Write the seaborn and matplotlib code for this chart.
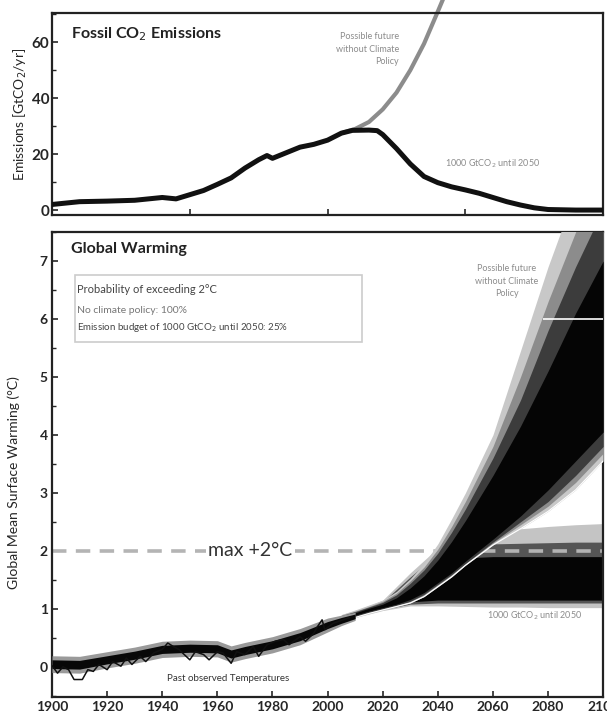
import numpy as np
import pandas as pd
import seaborn as sns
import matplotlib.pyplot as plt
from matplotlib.ticker import MultipleLocator

# === data ===
# fossil CO2 emissions [GtCO2/yr]
EMIS_YEARS = [1900, 1910, 1920, 1930, 1940, 1945, 1950, 1955, 1960, 1965, 1970,
              1975, 1978, 1980, 1985, 1990, 1995, 2000, 2005, 2009, 2015, 2018,
              2020, 2025, 2030, 2035, 2040, 2045, 2050, 2055, 2060, 2065, 2070,
              2075, 2080, 2090, 2100]
EMIS_BUDGET = [2.0, 3.0, 3.2, 3.5, 4.5, 4.0, 5.5, 7.0, 9.2, 11.5, 15.0,
               18.0, 19.5, 18.5, 20.5, 22.5, 23.5, 25.0, 27.5, 28.5, 28.6, 28.4,
               27.0, 22.0, 16.5, 12.0, 9.8, 8.3, 7.2, 6.0, 4.5, 3.0, 1.8,
               0.8, 0.2, 0.0, 0.0]
NOPOL_YEARS = [2005, 2010, 2015, 2020, 2025, 2030, 2035, 2040, 2043]
NOPOL_EMIS = [27.5, 29.0, 31.5, 36.0, 42.0, 50.0, 59.5, 71.0, 78.0]

# observed temperature anomaly [degC]
OBS_YEARS = [1900, 1902, 1904, 1906, 1908, 1911, 1913, 1915, 1917, 1920, 1922,
             1925, 1927, 1929, 1932, 1934, 1937, 1940, 1942, 1944, 1946, 1948,
             1950, 1952, 1955, 1957, 1960, 1962, 1965, 1967, 1970, 1973, 1975,
             1978, 1981, 1984, 1986, 1990, 1992, 1995, 1996, 1998, 1999, 2002,
             2005, 2008]
OBS_TEMP = [0.02, -0.11, 0.0, -0.05, -0.22, -0.22, -0.05, -0.08, 0.04, -0.05, 0.09,
            0.01, 0.15, 0.04, 0.18, 0.09, 0.24, 0.30, 0.41, 0.35, 0.30, 0.21,
            0.12, 0.26, 0.21, 0.12, 0.26, 0.24, 0.06, 0.26, 0.21, 0.35, 0.18,
            0.38, 0.44, 0.47, 0.38, 0.52, 0.44, 0.58, 0.67, 0.81, 0.64, 0.75,
            0.80, 0.85]

# model hindcast band
HIND_YEARS = [1900, 1910, 1920, 1930, 1940, 1950, 1960, 1965, 1970, 1980, 1990, 2000, 2005, 2010]
HIND_LO = [-0.03, -0.04, 0.05, 0.13, 0.23, 0.25, 0.24, 0.15, 0.21, 0.31, 0.45, 0.66, 0.75, 0.83]
HIND_HI = [0.12, 0.11, 0.19, 0.27, 0.37, 0.39, 0.38, 0.29, 0.35, 0.45, 0.59, 0.78, 0.85, 0.91]
HIND_LO2 = [-0.10, -0.11, -0.02, 0.06, 0.16, 0.18, 0.17, 0.08, 0.14, 0.24, 0.38, 0.60, 0.71, 0.80]
HIND_HI2 = [0.19, 0.18, 0.26, 0.34, 0.44, 0.46, 0.45, 0.36, 0.42, 0.52, 0.66, 0.84, 0.89, 0.94]

# no climate policy projection, percentiles
NOPOL_T_YEARS = [2005, 2010, 2015, 2020, 2025, 2030, 2035, 2040, 2045, 2050,
                 2060, 2070, 2080, 2090, 2100]
NOPOL_P05 = [0.78, 0.85, 0.92, 0.98, 1.04, 1.10, 1.21, 1.38, 1.55, 1.75, 2.10, 2.38, 2.68, 3.05, 3.55]
NOPOL_P10 = [0.79, 0.86, 0.93, 0.99, 1.05, 1.12, 1.23, 1.40, 1.57, 1.77, 2.13, 2.45, 2.77, 3.18, 3.68]
NOPOL_P17 = [0.80, 0.87, 0.94, 1.00, 1.06, 1.13, 1.25, 1.42, 1.59, 1.78, 2.15, 2.50, 2.85, 3.30, 3.80]
NOPOL_P33 = [0.82, 0.89, 0.96, 1.02, 1.08, 1.16, 1.28, 1.45, 1.62, 1.82, 2.20, 2.60, 3.05, 3.55, 4.05]
NOPOL_P67 = [0.86, 0.93, 1.01, 1.08, 1.19, 1.36, 1.57, 1.84, 2.16, 2.52, 3.30, 4.15, 5.10, 6.10, 7.00]
NOPOL_P83 = [0.88, 0.95, 1.03, 1.11, 1.24, 1.44, 1.67, 1.96, 2.32, 2.72, 3.60, 4.60, 5.80, 6.90, 7.90]
NOPOL_P90 = [0.89, 0.96, 1.04, 1.13, 1.27, 1.48, 1.72, 2.03, 2.42, 2.85, 3.80, 5.00, 6.30, 7.50, 8.60]
NOPOL_P95 = [0.90, 0.97, 1.05, 1.15, 1.30, 1.52, 1.78, 2.12, 2.55, 3.00, 4.00, 5.45, 6.90, 8.20, 9.40]

# 1000 GtCO2 budget projection, percentiles
BUDG_YEARS = [2005, 2010, 2020, 2030, 2040, 2050, 2060, 2070, 2080, 2090, 2100]
BUDG_P05 = [0.78, 0.85, 0.97, 1.05, 1.05, 1.04, 1.03, 1.03, 1.02, 1.02, 1.02]
BUDG_P17 = [0.80, 0.87, 0.99, 1.08, 1.10, 1.10, 1.10, 1.10, 1.10, 1.10, 1.10]
BUDG_P33 = [0.82, 0.89, 1.00, 1.12, 1.15, 1.15, 1.15, 1.15, 1.15, 1.15, 1.15]
BUDG_P67 = [0.86, 0.93, 1.10, 1.45, 1.78, 1.88, 1.90, 1.90, 1.90, 1.90, 1.90]
BUDG_P83 = [0.88, 0.95, 1.12, 1.55, 1.95, 2.08, 2.12, 2.13, 2.14, 2.15, 2.15]
BUDG_P95 = [0.90, 0.98, 1.15, 1.62, 2.05, 2.22, 2.32, 2.38, 2.42, 2.45, 2.47]

LIMIT = 2.0

emis = pd.DataFrame({"year": EMIS_YEARS, "emis": EMIS_BUDGET})
nopol = pd.DataFrame({"year": NOPOL_YEARS, "emis": NOPOL_EMIS})
obs = pd.DataFrame({"year": OBS_YEARS, "temp": OBS_TEMP})

# === style ===
sns.set_theme(style="ticks")
plt.rcParams["font.family"] = ["Lato", "DejaVu Sans"]
plt.rcParams["axes.linewidth"] = 1.6
plt.rcParams["axes.edgecolor"] = "#222222"

fig = plt.figure(figsize=(6.07, 7.17), dpi=100)
ax1 = fig.add_axes([0.0857, 0.700, 0.908, 0.282])
ax2 = fig.add_axes([0.0857, 0.028, 0.908, 0.6485])

# === top panel: emissions ===
sns.lineplot(data=nopol, x="year", y="emis", ax=ax1, color="#8c8c8c", lw=3,
             clip_on=False, zorder=2)
sns.lineplot(data=emis, x="year", y="emis", ax=ax1, color="#111111", lw=3.6, zorder=3)
ax1.set_xlim(1900, 2100)
ax1.set_ylim(-1.8, 70.5)
ax1.set_xticks([1950, 2000, 2050])
ax1.set_xticklabels([])
ax1.set_yticks([0, 20, 40, 60])
ax1.yaxis.set_minor_locator(MultipleLocator(10))
ax1.tick_params(direction="in", length=4, width=1.2, labelsize=11, pad=2)
ax1.tick_params(which="minor", direction="in", length=3, width=1)
for lbl in ax1.get_yticklabels():
    lbl.set_fontweight("bold")
ax1.set_xlabel("")
ax1.set_ylabel("Emissions [GtCO$_2$/yr]", fontsize=10, labelpad=2)
ax1.text(1907, 63, "Fossil CO$_2$ Emissions", fontsize=11.5, fontweight="bold",
         color="#222222", va="center")
ax1.text(2026, 57.5, "Possible future\nwithout Climate\nPolicy", fontsize=6.5,
         color="#8c8c8c", ha="right", va="center", linespacing=1.5)
ax1.text(2060, 16.5, "1000 GtCO$_2$ until 2050", fontsize=6.5, color="#8c8c8c",
         ha="center", va="center")

# === bottom panel: warming ===
# 1000 GtCO2 budget pathway (drawn under the 2 degC line)
ax2.fill_between(BUDG_YEARS, BUDG_P05, BUDG_P95, color="#c4c4c4", lw=0, zorder=1)
ax2.fill_between(BUDG_YEARS, BUDG_P17, BUDG_P83, color="#555555", lw=0, zorder=1)
ax2.fill_between(BUDG_YEARS, BUDG_P33, BUDG_P67, color="#050505", lw=0, zorder=1)

ax2.axhline(LIMIT, color="#b4b4b4", lw=2.6, dashes=(4, 2.6), zorder=2)

# no climate policy fan
ax2.fill_between(NOPOL_T_YEARS, NOPOL_P05, NOPOL_P95, color="#c8c8c8", lw=0, zorder=3)
ax2.fill_between(NOPOL_T_YEARS, NOPOL_P10, NOPOL_P90, color="#8c8c8c", lw=0, zorder=3)
ax2.fill_between(NOPOL_T_YEARS, NOPOL_P17, NOPOL_P83, color="#3c3c3c", lw=0, zorder=3)
ax2.fill_between(NOPOL_T_YEARS, NOPOL_P33, NOPOL_P67, color="#050505", lw=0, zorder=3)
ax2.plot(NOPOL_T_YEARS, NOPOL_P05, color="white", lw=0.8, zorder=3)
ax2.hlines(6.0, 2078, 2100, color="white", lw=1.2, zorder=4)

# past
ax2.fill_between(HIND_YEARS, HIND_LO2, HIND_HI2, color="#9a9a9a", lw=0, zorder=3)
ax2.fill_between(HIND_YEARS, HIND_LO, HIND_HI, color="#080808", lw=0, zorder=3)
sns.lineplot(data=obs, x="year", y="temp", ax=ax2, color="#111111", lw=1.1, zorder=4)

ax2.set_xlim(1900, 2100)
ax2.set_ylim(-0.52, 7.5)
ax2.set_xticks(range(1900, 2101, 20))
ax2.set_yticks(range(0, 8))
ax2.yaxis.set_minor_locator(MultipleLocator(0.5))
ax2.tick_params(direction="in", length=4, width=1.2, labelsize=10, pad=3)
ax2.tick_params(which="minor", direction="in", length=3, width=1)
for lbl in ax2.get_yticklabels() + ax2.get_xticklabels():
    lbl.set_fontweight("bold")
ax2.set_xlabel("")
ax2.set_ylabel("Global Mean Surface Warming (°C)", fontsize=10)
ax2.yaxis.set_label_coords(-0.058, 0.46)

ax2.text(1907, 7.2, "Global Warming", fontsize=11.5, fontweight="bold",
         color="#222222", va="center")
ax2.text(1972, LIMIT, "max +2°C", fontsize=14, color="#333333", ha="center",
         va="center", zorder=5,
         bbox=dict(facecolor="white", edgecolor="none", pad=1.5))
ax2.text(2065, 6.65, "Possible future\nwithout Climate\nPolicy", fontsize=6.5,
         color="#8c8c8c", ha="center", va="center", linespacing=1.5, zorder=5)
ax2.text(2075, 0.88, "1000 GtCO$_2$ until 2050", fontsize=6.5, color="#8c8c8c",
         ha="center", va="center", zorder=5)
ax2.text(1964, -0.2, "Past observed Temperatures", fontsize=7, color="#333333",
         ha="center", va="center", zorder=5)

# info box
ax2.text(1909, 6.5, "Probability of exceeding 2°C", fontsize=8, color="#444444",
         va="center", zorder=6)
ax2.text(1909, 6.15, "No climate policy: 100%", fontsize=7.5, color="#777777",
         va="center", zorder=6)
ax2.text(1909, 5.85, "Emission budget of 1000 GtCO$_2$ until 2050: 25%",
         fontsize=7, color="#444444", va="center", zorder=6)
ax2.add_patch(plt.Rectangle((1908.5, 5.6), 104, 1.15, facecolor="none",
                            edgecolor="#cccccc", lw=1.2, zorder=6))

fig.savefig("out.png", dpi=100)
